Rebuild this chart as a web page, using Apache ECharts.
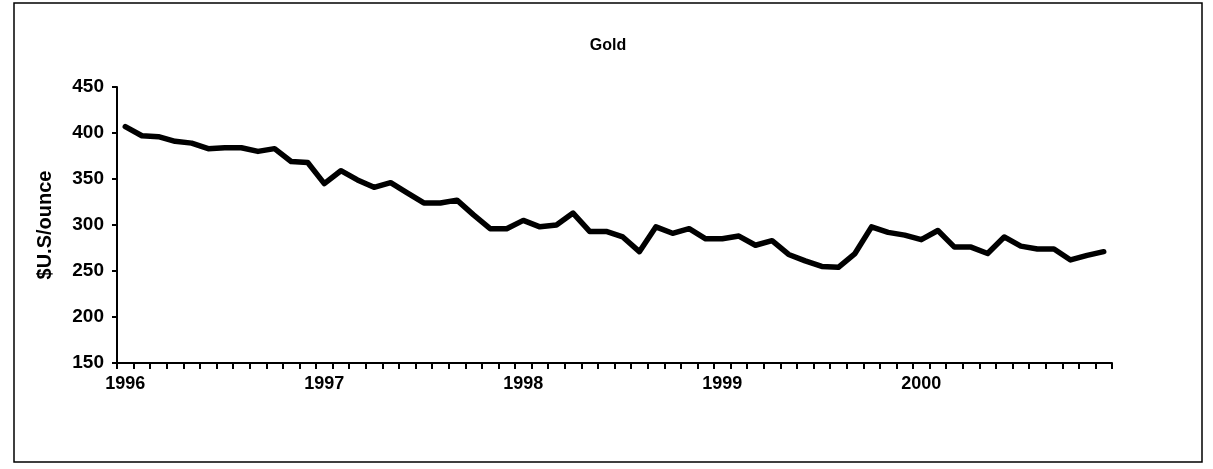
<!DOCTYPE html>
<html>
<head>
<meta charset="utf-8">
<title>Gold</title>
<script src="https://cdn.jsdelivr.net/npm/echarts@6/dist/echarts.min.js"></script>
<style>
  html, body { margin: 0; padding: 0; background: #fff; }
  #chart { width: 1213px; height: 469px; }
</style>
</head>
<body>
<div id="chart"></div>
<script>
// years shown on the x axis, one category per month
const years = ['1996', '1997', '1998', '1999', '2000']
const months = ['01', '02', '03', '04', '05', '06', '07', '08', '09', '10', '11', '12']
const categories = years.flatMap(y => months.map(m => y + '-' + m))

// gold price, $U.S/ounce, monthly
const gold = [
  407, 397, 396, 391, 389, 383, 384, 384, 380, 383, 369, 368,
  345, 359, 349, 341, 346, 335, 324, 324, 327, 311, 296, 296,
  305, 298, 300, 313, 293, 293, 287, 271, 298, 291, 296, 285,
  285, 288, 278, 283, 268, 261, 255, 254, 269, 298, 292, 289,
  284, 294, 276, 276, 269, 287, 277, 274, 274, 262, 267, 271
]

const yTicks = { min: 150, max: 450, interval: 50 }

const font = 'Arial, "Liberation Sans", sans-serif'

const chart = echarts.init(document.getElementById('chart'))

chart.setOption({
  animation: false,
  backgroundColor: '#fff',
  title: {
    text: 'Gold',
    left: 603,
    top: 33,
    textAlign: 'center',
    textStyle: { fontFamily: font, fontWeight: 'bold', fontSize: 16, color: '#000' }
  },
  graphic: [{
    type: 'rect',
    shape: { x: 14, y: 3, width: 1188, height: 459 },
    style: { fill: 'none', stroke: '#000', lineWidth: 1.5 },
    silent: true
  }],
  grid: {
    left: 117,
    right: 101,
    top: 87,
    bottom: 106,
    containLabel: false
  },
  xAxis: {
    type: 'category',
    data: categories,
    boundaryGap: true,
    axisLine: { lineStyle: { color: '#000', width: 2 } },
    axisTick: { show: true, interval: 0, length: 6, lineStyle: { color: '#000', width: 2 } },
    axisLabel: {
      interval: 11,
      margin: 12,
      color: '#000',
      fontFamily: font,
      fontWeight: 'bold',
      fontSize: 18,
      formatter: v => v.slice(0, 4)
    },
    splitLine: { show: false }
  },
  yAxis: {
    type: 'value',
    min: yTicks.min,
    max: yTicks.max,
    interval: yTicks.interval,
    name: '$U.S/ounce',
    nameLocation: 'middle',
    nameGap: 62,
    nameRotate: 90,
    nameTextStyle: { fontFamily: font, fontWeight: 'bold', fontSize: 20, color: '#000' },
    axisLine: { show: true, lineStyle: { color: '#000', width: 2 } },
    axisTick: { show: true, length: 5, lineStyle: { color: '#000', width: 2 } },
    axisLabel: {
      margin: 13,
      color: '#000',
      fontFamily: font,
      fontWeight: 'bold',
      fontSize: 19
    },
    splitLine: { show: false }
  },
  series: [{
    name: 'Gold',
    type: 'line',
    data: gold,
    showSymbol: false,
    symbol: 'none',
    smooth: false,
    lineStyle: { color: '#000', width: 5.5, join: 'round', cap: 'round' }
  }]
})
</script>
</body>
</html>
